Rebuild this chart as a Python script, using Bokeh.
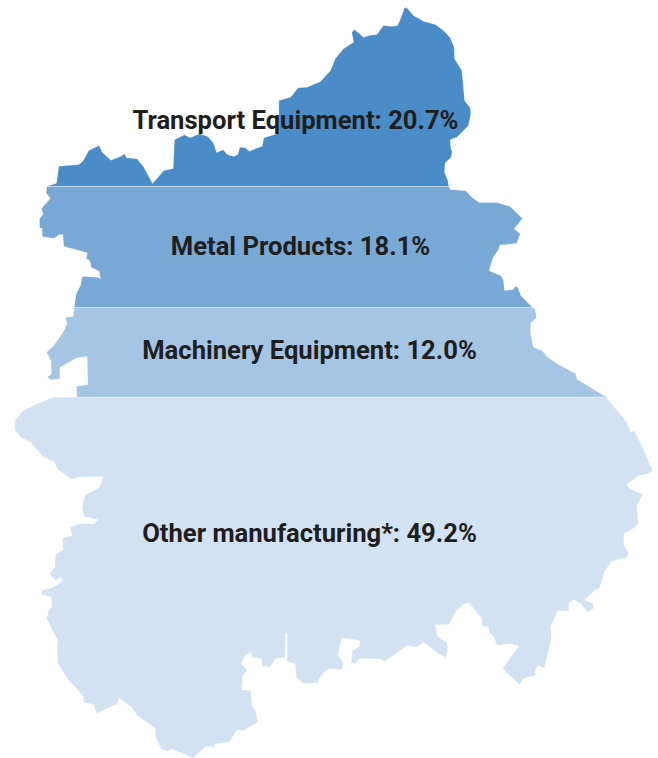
from bokeh.plotting import figure
from bokeh.models import ColumnDataSource, Range1d
from bokeh.core.properties import value
from bokeh.embed import file_html
from bokeh.resources import INLINE

categories = ["Transport Equipment", "Metal Products", "Machinery Equipment", "Other manufacturing*"]
shares = [20.7, 18.1, 12.0, 49.2]
colors = ["#4a8cc7", "#78a8d5", "#a4c5e3", "#d2e2f2"]
label_x = [295, 300, 309, 309]
label_y = [119, 245, 349, 532]

# Outline, in pixels x 3; each run is (x0, y0, points)
transport_left = [(140,557),(168,548),(175,497),(235,492),(247,482),(265,450),(296,435),(305,455),(331,479),(360,468),(372,460),(378,472),(410,475),(430,500),(456,549),(490,510),(518,504),(522,418),(552,403),(568,412),(597,400),(622,408),(640,430),(648,456),(668,448),(680,462),(700,468),(712,462),(718,440),(735,442),(746,452),(785,437),(790,412),(835,398),(835,300),(870,290),(893,262),(920,260),(960,243),(990,210)]
transport_right = [(20,175),(45,145),(75,125),(70,95),(78,87),(105,110),(125,104),(145,102),(165,75),(192,78),(207,75),(218,50),(228,22),(235,22),(255,45),(285,62),(320,72),(345,90),(365,112),(377,140),(378,175),(400,210),(404,250),(408,300),(425,322),(427,340),(420,375),(400,395),(385,410),(365,418),(367,445),(371,452),(368,470),(350,487),(348,515),(358,540),(361,558)]
metal_right = [(361,558),(365,567),(412,571),(430,590),(452,606),(505,606),(545,618),(582,654),(557,685),(575,700),(565,728),(530,733),(515,733),(510,748),(495,768),(488,790),(482,811),(518,826),(525,840),(528,870),(553,868),(560,858),(568,860),(577,885),(582,890),(612,921)]
metal_left = [(221,921),(227,880),(240,855),(245,828),(290,830),(300,835),(296,812),(272,800),(268,780),(258,775),(260,757),(228,748),(190,738),(187,702),(175,703),(160,714),(125,708),(125,684),(117,682),(117,655),(128,640),(122,625),(150,593),(137,578),(139,558)]
machinery_right = [(612,921),(620,925),(624,952),(606,968),(606,1000),(615,1040),(640,1050),(660,1072),(690,1092),(742,1120),(745,1136),(835,1190)]
machinery_left = [(228,1190),(228,1157),(262,1152),(260,1068),(230,1072),(178,1100),(178,1135),(150,1138),(140,1130),(152,1122),(152,1082),(138,1055),(160,1035),(185,1000),(200,970),(195,950),(218,948),(221,921)]
other_right = [(833,50),(870,95),(895,125),(907,155),(917,150),(945,205),(972,270),(960,280),(930,285),(912,300),(895,310),(900,322),(943,342),(925,375),(930,430),(910,447),(886,460),(886,495),(900,515),(897,530),(850,542),(830,570),(812,625),(800,628),(768,660),(795,668),(795,683),(777,695),(755,668),(735,658),(720,668),(722,692),(688,690),(667,737),(668,775),(648,863),(628,855),(620,870),(622,885),(587,893),(573,912),(522,865),(570,797),(548,790),(505,795),(497,770),(483,755),(478,738),(462,738),(458,712),(420,665),(400,675),(380,695),(362,732),(320,733),(327,768),(355,785),(358,800),(353,832),(330,820),(285,785),(265,800),(235,795),(185,832),(170,842),(155,836),(95,833),(80,848),(67,848),(72,810),(93,797),(93,780),(40,772),(28,825),(45,845),(40,868),(0,865)]
other_left = [(984,866),(965,880),(950,908),(907,908),(888,893),(884,850),(860,842),(860,758),(856,758),(853,830),(825,835),(808,860),(785,857),(782,835),(755,830),(752,815),(735,825),(722,850),(740,870),(727,885),(723,928),(750,930),(755,975),(765,990),(772,1025),(730,1050),(710,1048),(685,1085),(643,1090),(640,1100),(617,1097),(577,1133),(545,1118),(515,1106),(500,1112),(482,1105),(465,1070),(465,1045),(410,1005),(392,978),(355,953),(350,970),(288,998),(280,973),(250,965),(247,945),(205,900),(172,850),(170,790),(172,780),(138,715),(145,690),(155,678),(152,650),(122,640),(125,630),(160,620),(187,600),(178,590),(165,600),(148,580),(163,560),(165,520),(187,510),(187,472),(215,465),(208,440),(240,430),(280,430),(293,418),(250,408),(245,380),(253,345),(298,320),(308,288),(240,290),(213,296),(170,265),(162,245),(127,228),(90,185),(60,170),(43,150),(43,122),(65,93),(110,70),(160,50)]


def run(points, dx=0, dy=0):
    return [((x + dx) / 3, (y + dy) / 3) for x, y in points]


bands = [
    run(transport_left) + run(transport_right, dx=984),
    run(metal_right, dx=984) + run(metal_left),
    run(machinery_right, dx=984) + run(machinery_left),
    run(other_right, dx=984, dy=1140) + run(other_left, dy=1140),
]

source = ColumnDataSource(dict(
    xs=[[pt[0] for pt in b] for b in bands],
    ys=[[pt[1] for pt in b] for b in bands],
    color=colors,
))
labels = ColumnDataSource(dict(
    x=label_x,
    y=label_y,
    text=[f"{c}: {s:.1f}%" for c, s in zip(categories, shares)],
))

p = figure(width=658, height=758, output_backend="svg", toolbar_location=None,
           x_range=Range1d(0, 658), y_range=Range1d(758, 0),
           min_border=0, outline_line_color=None, background_fill_color="white")
p.axis.visible = False
p.grid.visible = False
p.patches("xs", "ys", source=source, fill_color="color", line_color="white",
          line_alpha=0.25, line_width=1)
p.text("x", "y", text="text", source=labels, text_align="center", text_baseline="middle",
       text_font=value("Roboto"), text_font_style="bold", text_font_size="25.6px",
       text_color="#1e1e1e")

open("out.html", "w").write(file_html(p, INLINE))
